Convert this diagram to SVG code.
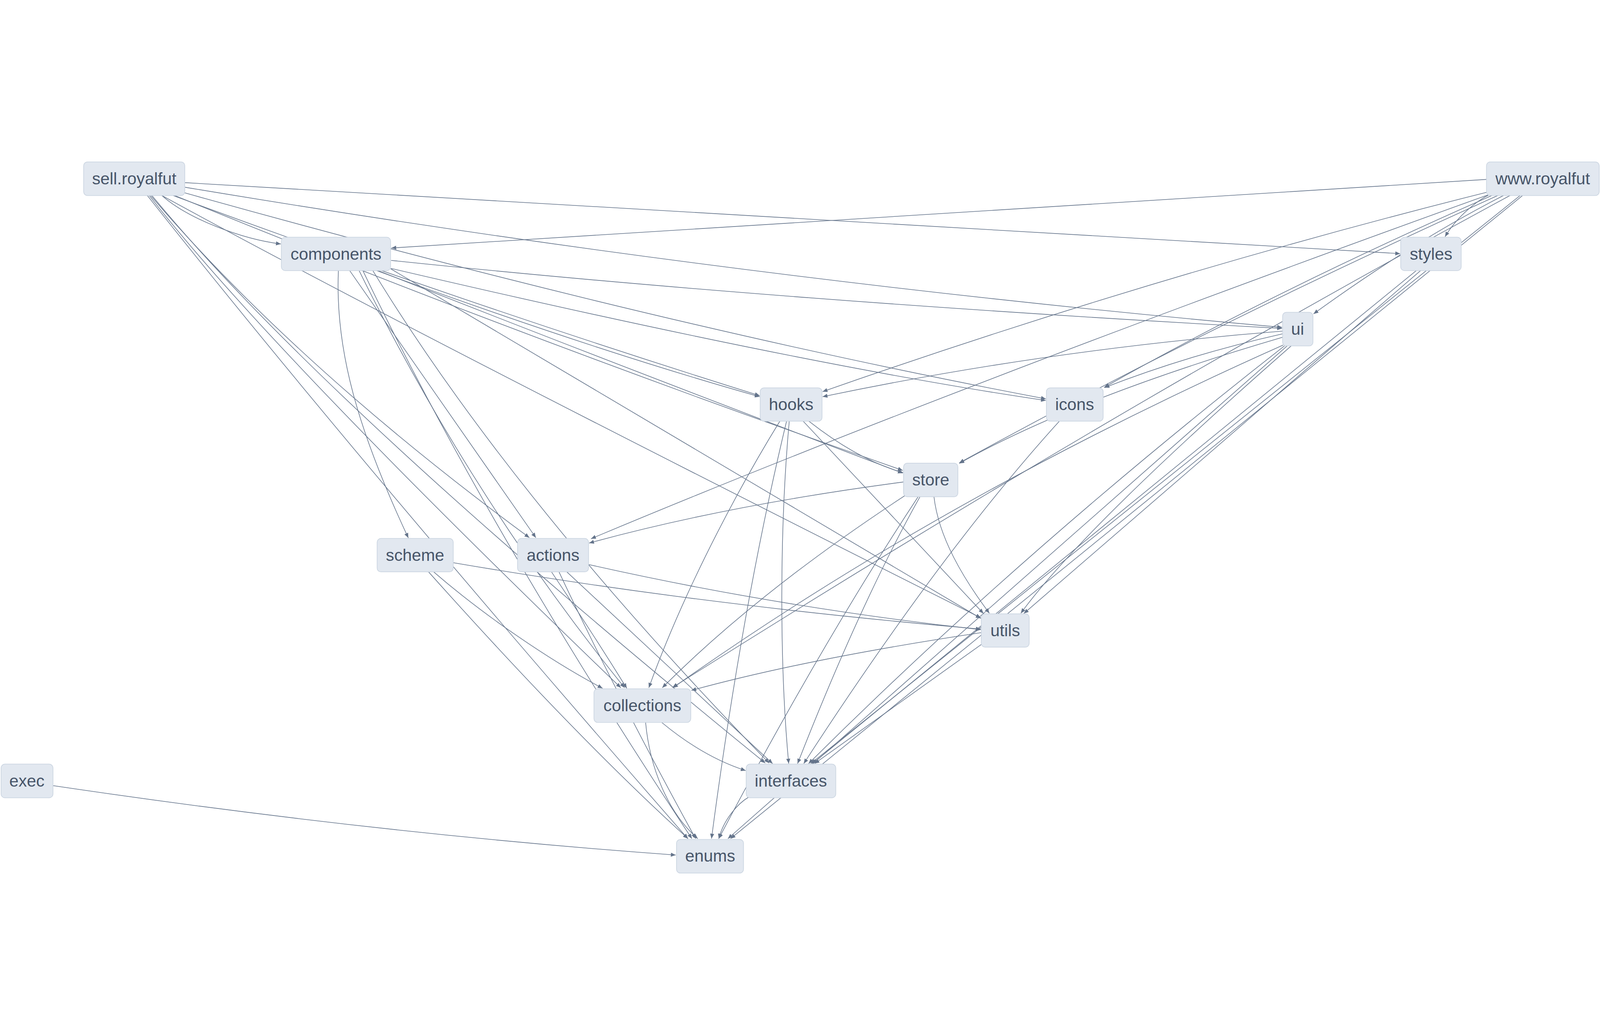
<svg xmlns="http://www.w3.org/2000/svg" width="5948" height="2650" viewBox="0 0 5948 2650" style="width:100vw;height:100vh;display:block">
<style>
.e{fill:none;stroke:#64748b;stroke-width:2.3;marker-end:url(#ah)}
.n rect{fill:#e2e8f0;stroke:#cbd5e1;stroke-width:2.5}
.n text{font-family:"Liberation Sans",Arial,Helvetica,sans-serif;font-size:62px;fill:#475569;text-anchor:middle}
</style>
<defs>
<marker id="ah" viewBox="0 0 12 10" refX="12" refY="5" markerWidth="19" markerHeight="15" markerUnits="userSpaceOnUse" orient="auto">
<path d="M0,0 L12,5 L0,10 z" fill="#64748b"/>
</marker>
</defs>
<rect width="5948" height="2650" fill="#ffffff"/>
<g id="edges">
<path class="e" d="M687,80 L5205,344"/>
<path class="e" d="M687,97 Q2726,437 4766,618"/>
<path class="e" d="M602,128 C700,215 900,290 1044,308"/>
<path class="e" d="M644,128 Q1700,520 2824,872"/>
<path class="e" d="M650,128 Q1900,640 3356,1150"/>
<path class="e" d="M687,118 Q2459,614 3888,884"/>
<path class="e" d="M560,128 Q1100,760 1968,1400"/>
<path class="e" d="M602,128 Q1500,620 3646,1698"/>
<path class="e" d="M555,128 Q1000,700 2308,1958"/>
<path class="e" d="M565,128 Q1200,900 2845,2238"/>
<path class="e" d="M548,128 Q1300,1080 2557,2519"/>
<path class="e" d="M5526,68 L1455,323"/>
<path class="e" d="M5535,126 C5500,142 5420,200 5372,281"/>
<path class="e" d="M5526,116 Q4283,428 3058,857"/>
<path class="e" d="M5533,125 Q3500,857 2197,1404"/>
<path class="e" d="M5548,127 Q4723,490 4105,841"/>
<path class="e" d="M5570,127 Q4505,606 3566,1122"/>
<path class="e" d="M5591,127 Q5255,298 4883,568"/>
<path class="e" d="M5615,127 Q4122,933 2500,1957"/>
<path class="e" d="M5651,128 L3014,2240"/>
<path class="e" d="M5660,128 L2716,2519"/>
<path class="e" d="M1258,407 C1245,700 1330,1000 1518,1401"/>
<path class="e" d="M1454,369 Q2900,520 4766,622"/>
<path class="e" d="M1400,407 Q2200,700 2824,876"/>
<path class="e" d="M1454,399 Q2993,759 3888,890"/>
<path class="e" d="M1405,407 Q2300,760 3356,1160"/>
<path class="e" d="M1300,407 L1992,1400"/>
<path class="e" d="M1452,400 L3646,1700"/>
<path class="e" d="M1335,407 Q1750,1250 2322,1958"/>
<path class="e" d="M1386,407 Q1900,1250 2859,2238"/>
<path class="e" d="M1349,407 Q1800,1350 2572,2519"/>
<path class="e" d="M5281,407 L3806,1682"/>
<path class="e" d="M5265,407 L3020,2240"/>
<path class="e" d="M4768,632 Q3900,700 3058,876"/>
<path class="e" d="M4768,642 Q4420,720 4106,842"/>
<path class="e" d="M4768,655 Q4000,880 3566,1124"/>
<path class="e" d="M4800,687 C4500,950 4000,1400 3795,1681"/>
<path class="e" d="M4770,684 Q3500,1250 2502,1958"/>
<path class="e" d="M4775,687 Q3800,1450 3006,2240"/>
<path class="e" d="M4785,687 Q3800,1550 2706,2519"/>
<path class="e" d="M3007,967 C3100,1040 3220,1120 3357,1158"/>
<path class="e" d="M2986,967 L3656,1682"/>
<path class="e" d="M2899,967 C2780,1160 2560,1550 2412,1958"/>
<path class="e" d="M2934,967 C2895,1400 2900,1900 2932,2240"/>
<path class="e" d="M2924,967 Q2760,1650 2645,2519"/>
<path class="e" d="M3938,967 Q3500,1450 2988,2240"/>
<path class="e" d="M3358,1193 Q2700,1280 2190,1420"/>
<path class="e" d="M3365,1243 Q2820,1600 2462,1958"/>
<path class="e" d="M3420,1248 Q3200,1640 2965,2240"/>
<path class="e" d="M3413,1248 Q3050,1800 2672,2519"/>
<path class="e" d="M3472,1248 C3490,1400 3580,1550 3678,1681"/>
<path class="e" d="M1685,1493 Q2600,1650 3646,1740"/>
<path class="e" d="M1612,1527 C1800,1690 2050,1860 2240,1960"/>
<path class="e" d="M1593,1527 Q2150,2150 2558,2519"/>
<path class="e" d="M2189,1500 Q2900,1660 3646,1742"/>
<path class="e" d="M2050,1527 Q2200,1750 2330,1960"/>
<path class="e" d="M2107,1527 L2872,2240"/>
<path class="e" d="M2078,1527 Q2300,2000 2586,2519"/>
<path class="e" d="M3648,1753 Q3000,1850 2570,1968"/>
<path class="e" d="M3648,1797 L3028,2240"/>
<path class="e" d="M2460,2087 C2560,2170 2660,2230 2772,2266"/>
<path class="e" d="M2400,2087 C2415,2250 2480,2420 2594,2519"/>
<path class="e" d="M2784,2364 C2740,2390 2690,2450 2672,2519"/>
<path class="e" d="M197,2322 Q1400,2500 2512,2580"/>
</g>
<g id="node-sell-royalfut" class="n"><rect x="311" y="3" width="376" height="125" rx="14"/><text x="499" y="86">sell.royalfut</text></g>
<g id="node-www-royalfut" class="n"><rect x="5526" y="3" width="419" height="125" rx="14"/><text x="5735" y="86">www.royalfut</text></g>
<g id="node-components" class="n"><rect x="1046" y="283" width="406" height="124" rx="14"/><text x="1249" y="366">components</text></g>
<g id="node-styles" class="n"><rect x="5207" y="283" width="225" height="124" rx="14"/><text x="5320" y="366">styles</text></g>
<g id="node-ui" class="n"><rect x="4768" y="562" width="113" height="125" rx="14"/><text x="4824" y="645">ui</text></g>
<g id="node-hooks" class="n"><rect x="2826" y="843" width="230" height="124" rx="14"/><text x="2941" y="926">hooks</text></g>
<g id="node-icons" class="n"><rect x="3890" y="843" width="211" height="124" rx="14"/><text x="3995" y="926">icons</text></g>
<g id="node-store" class="n"><rect x="3359" y="1123" width="202" height="125" rx="14"/><text x="3460" y="1206">store</text></g>
<g id="node-scheme" class="n"><rect x="1402" y="1403" width="283" height="124" rx="14"/><text x="1543" y="1486">scheme</text></g>
<g id="node-actions" class="n"><rect x="1924" y="1403" width="264" height="124" rx="14"/><text x="2056" y="1486">actions</text></g>
<g id="node-utils" class="n"><rect x="3648" y="1683" width="178" height="124" rx="14"/><text x="3737" y="1766">utils</text></g>
<g id="node-collections" class="n"><rect x="2208" y="1962" width="360" height="125" rx="14"/><text x="2388" y="2045">collections</text></g>
<g id="node-interfaces" class="n"><rect x="2774" y="2242" width="333" height="125" rx="14"/><text x="2940" y="2325">interfaces</text></g>
<g id="node-exec" class="n"><rect x="4" y="2242" width="193" height="125" rx="14"/><text x="100" y="2325">exec</text></g>
<g id="node-enums" class="n"><rect x="2515" y="2522" width="249" height="125" rx="14"/><text x="2640" y="2605">enums</text></g>
</svg>
